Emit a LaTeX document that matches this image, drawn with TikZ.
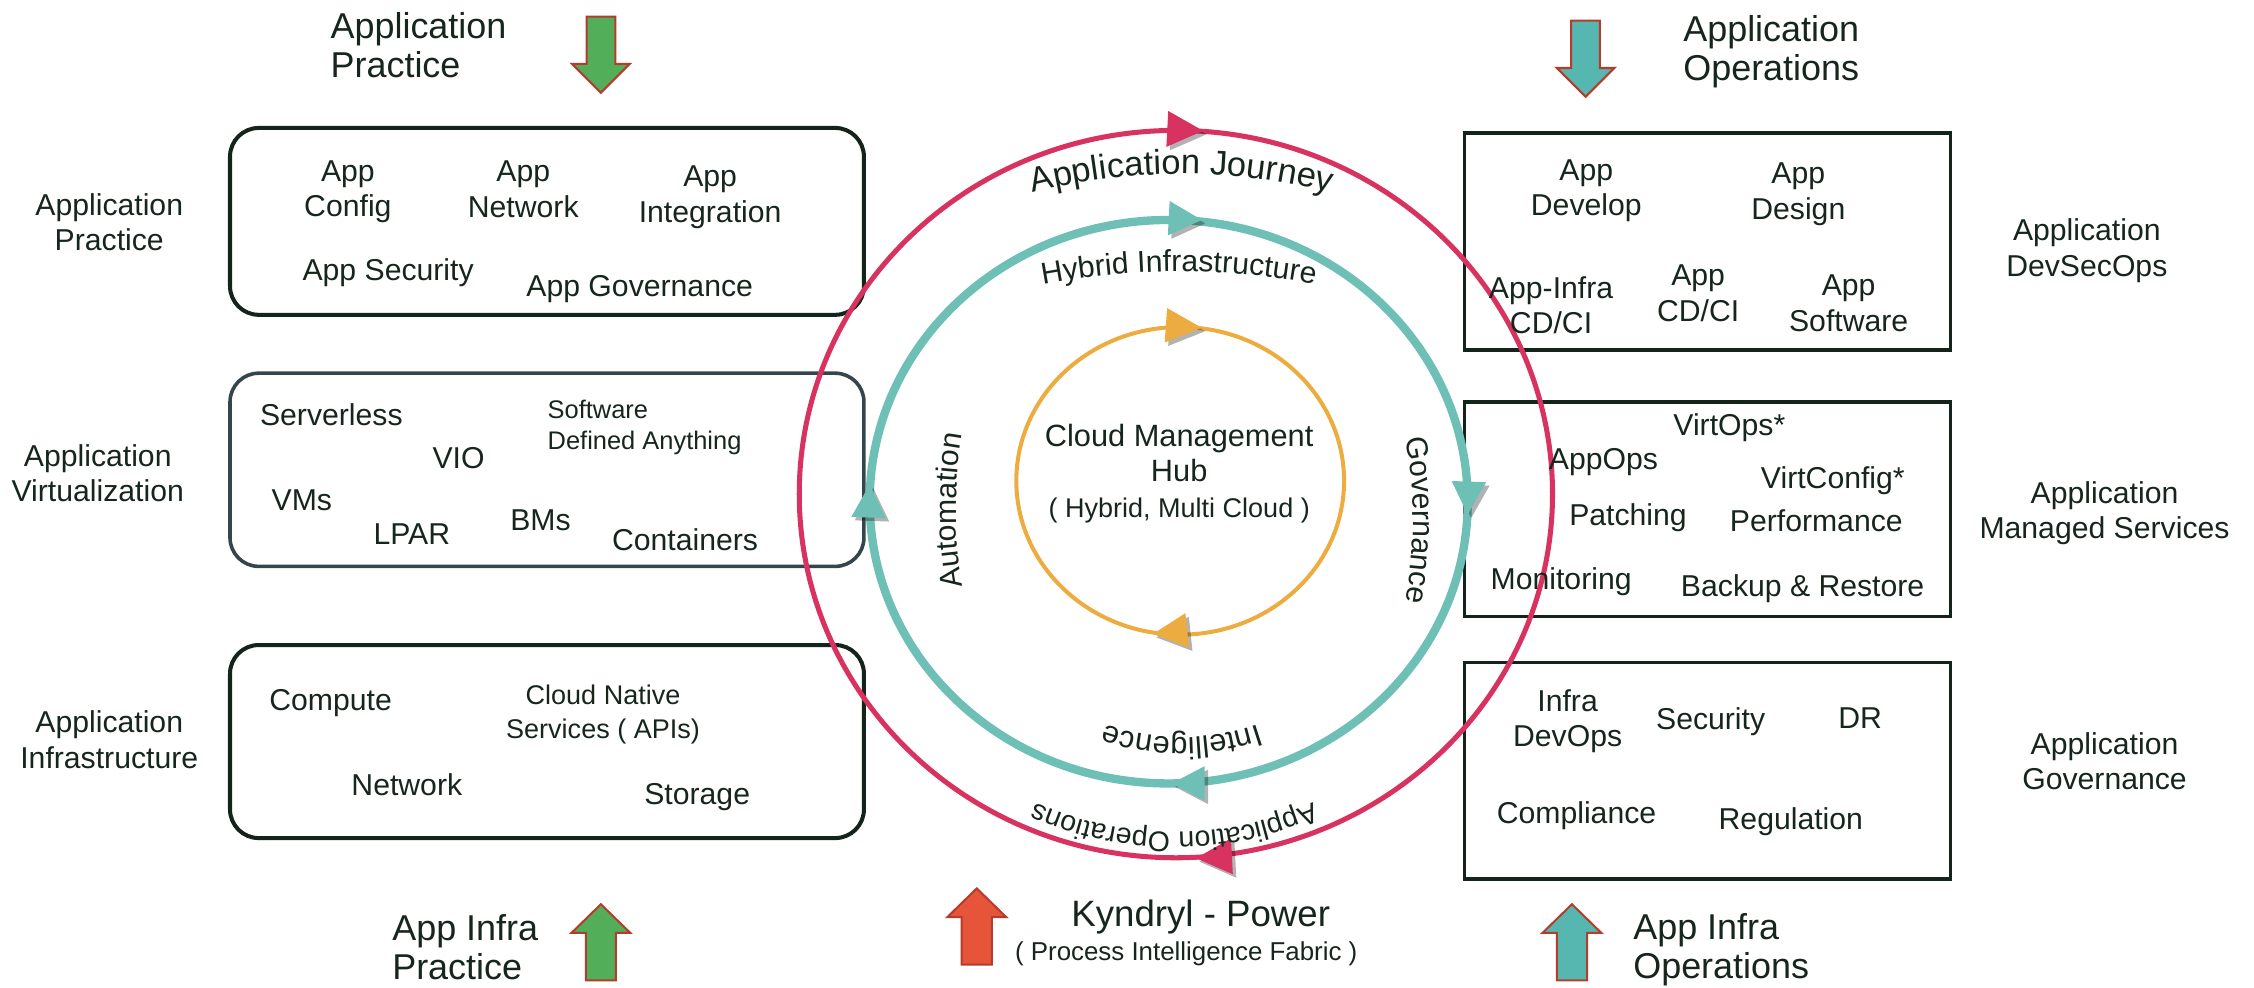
\documentclass[tikz,border=0pt]{standalone}
\usepackage{fontspec}
\setmainfont{Liberation Sans}
\usetikzlibrary{decorations.text,shadows}
\definecolor{redc}{RGB}{216,51,96}
\definecolor{tealc}{RGB}{110,192,183}
\definecolor{orangec}{RGB}{237,172,64}
\definecolor{greenfill}{RGB}{82,174,88}
\definecolor{tealfill}{RGB}{86,182,176}
\definecolor{orfill}{RGB}{230,84,58}
\definecolor{arrowbd}{RGB}{180,60,45}
\definecolor{txt}{RGB}{22,38,28}
\definecolor{boxdark}{RGB}{20,36,26}
\definecolor{boxgray}{RGB}{52,70,76}
\newcommand\fsMain{\fontsize{10.5}{12.4}\selectfont}
\newcommand\fsBig{\fontsize{12.5}{13.5}\selectfont}
\newcommand\fsSoft{\fontsize{8.85}{10.5}\selectfont}
\newcommand\fsCN{\fontsize{9.4}{11.8}\selectfont}
\newcommand\fsHub{\fontsize{10.7}{12.5}\selectfont}
\newcommand\fsHubS{\fontsize{9.4}{12.5}\selectfont}
\tikzset{
  lbl/.style={font=\fsMain, text=txt, align=center, inner sep=0pt, text depth=0pt},
  biglbl/.style={lbl, font=\fsBig, align=left, anchor=west},
  lbox/.style={draw=boxdark, line width=1.4pt, rounded corners=10pt},
  rbox/.style={draw=boxdark, line width=1.15pt},
  ahead/.style={drop shadow={shadow xshift=1.2pt, shadow yshift=-1.2pt, opacity=0.3, fill=black}},
  blk/.style={draw=arrowbd, line width=0.7pt, line join=miter},
  pics/blkup/.style={code={\path[pic actions] (0,0) -- (20.5,-20) -- (10.5,-20) -- (10.5,-53) -- (-10.5,-53) -- (-10.5,-20) -- (-20.5,-20) -- cycle;}},
  pics/blkdown/.style={code={\path[pic actions] (0,0) -- (20,20) -- (10,20) -- (10,53) -- (-10,53) -- (-10,20) -- (-20,20) -- cycle;}},
}
\begin{document}
\begin{tikzpicture}[x=0.5pt,y=0.5pt]
\useasboundingbox (0,0) rectangle (1568,-687);

% boxes
\draw[lbox] (160,-89) rectangle (601,-219);
\draw[lbox, draw=boxgray, line width=1.25pt] (160,-259.6) rectangle (601,-394);
\draw[lbox] (160,-448.7) rectangle (601,-583);
\draw[rbox] (1019,-92.6) rectangle (1357,-243.5);
\draw[rbox] (1019,-279.6) rectangle (1357,-429);
\draw[rbox] (1019,-461) rectangle (1357,-611.5);

% rings
\draw[redc, line width=1.75pt] (818,-343.7) ellipse [x radius=262, y radius=253];
\draw[tealc, line width=2.9pt] (813,-349) ellipse [x radius=208, y radius=196];
\draw[orangec, line width=1.4pt] (821,-334.5) ellipse [x radius=114, y radius=107];

% ring arrow heads
\fill[redc, ahead, shift={(837,-91)}, rotate=-3] (0,0) -- (-25,12.5) -- (-25,-12.5) -- cycle;
\fill[redc, ahead, shift={(832,-597)}, rotate=183] (0,0) -- (-25,12.5) -- (-25,-12.5) -- cycle;
\fill[tealc, ahead, shift={(836,-153)}, rotate=-3] (0,0) -- (-23,12) -- (-23,-12) -- cycle;
\fill[tealc, ahead, shift={(1021,-358)}, rotate=-92] (0,0) -- (-23,12) -- (-23,-12) -- cycle;
\fill[tealc, ahead, shift={(815,-545)}, rotate=180] (0,0) -- (-23,12) -- (-23,-12) -- cycle;
\fill[tealc, ahead, shift={(605,-337)}, rotate=88] (0,0) -- (-23,12) -- (-23,-12) -- cycle;
\fill[orangec, ahead, shift={(836,-228)}, rotate=-4] (0,0) -- (-25,12) -- (-25,-12) -- cycle;
\fill[orangec, ahead, shift={(802,-441)}, rotate=186] (0,0) -- (-24,12) -- (-24,-12) -- cycle;

% curved texts
\path[decorate, decoration={text along path, text align=center,
  text={|\fontsize{12}{14}\selectfont\color{txt}|Application Journey}}]
  (822,-538) ++(112:417) arc[start angle=112, end angle=68, radius=417];
\path[decorate, decoration={text along path, text align=center,
  text={|\fontsize{10.5}{12}\selectfont\color{txt}|Hybrid Infrastructure}}]
  (820,-701) ++(106:512) arc[start angle=106, end angle=74, radius=512];
\path[decorate, decoration={text along path, text align=center,
  text={|\fontsize{10.5}{12}\selectfont\color{txt}|Automation}}]
  (965,-355) ++(205:300) arc[start angle=205, end angle=155, radius=300];
\path[decorate, decoration={text along path, text align=center,
  text={|\fontsize{10.5}{12}\selectfont\color{txt}|Governance}}]
  (683,-362) ++(25:300) arc[start angle=25, end angle=-25, radius=300];
\path[decorate, decoration={text along path, text align=center,
  text={|\fontsize{10.7}{12}\selectfont\color{txt}|Intelligence}}]
  (822,-349) ++(-40:164) arc[start angle=-40, end angle=-140, radius=164];
\path[decorate, decoration={text along path, text align=center,
  text={|\fontsize{9.9}{12}\selectfont\color{txt}|Application Operations}}]
  (817,-344) ++(-30:235) arc[start angle=-30, end angle=-150, radius=235];

% hub
\node[lbl, font=\fsHub] (hub) at (820.3,-327.5) {Cloud Management\\Hub\\{\fsHubS ( Hybrid, Multi Cloud )}};

% block arrows
\pic[blk, fill=greenfill] at (418,-64.5) {blkdown};
\pic[blk, fill=tealfill] at (1103,-67.3) {blkdown};
\pic[blk, fill=greenfill] at (418,-629) {blkup};
\pic[blk, fill=orfill] at (679.5,-618) {blkup};
\pic[blk, fill=tealfill] at (1093.5,-629) {blkup};

% top / bottom labels
\node[biglbl] (tl) at (229.6,-31.3) {Application\\Practice};
\node[biglbl] (tr) at (1170.6,-33.3) {Application\\Operations};
\node[biglbl] (bl) at (272.5,-659) {App Infra\\Practice};
\node[biglbl] (br) at (1135.8,-658.2) {App Infra\\Operations};
\node[lbl, font=\fontsize{12.75}{14}\selectfont] (kyn) at (835.3,-635.3) {Kyndryl - Power};
\node[lbl, font=\fontsize{9}{11}\selectfont] (kynsub) at (825.2,-661.4) {( Process Intelligence Fabric )};

% left labels
\node[lbl] (lp) at (76,-154.5) {Application\\Practice};
\node[lbl] (lv) at (68,-329) {Application\\Virtualization};
\node[lbl] (li) at (76,-514.6) {Application\\Infrastructure};

% box 1
\node[lbl] (appconfig) at (242,-131.3) {App\\Config};
\node[lbl] (appnetwork) at (364,-131.5) {App\\Network};
\node[lbl] (appintegration) at (494,-134.9) {App\\Integration};
\node[lbl] (appsecurity) at (270,-187.8) {App Security};
\node[lbl] (appgovernance) at (445,-198.7) {App Governance};

% box 2
\node[lbl] (serverless) at (230.5,-288.7) {Serverless};
\node[lbl, font=\fsSoft, align=left, anchor=west] (sda) at (380.6,-295.5) {Software\\Defined Anything};
\node[lbl] (vio) at (319,-318.8) {VIO};
\node[lbl] (vms) at (210,-347.8) {VMs};
\node[lbl] (lpar) at (286.5,-371.5) {LPAR};
\node[lbl] (bms) at (376,-362) {BMs};
\node[lbl] (containers) at (476.6,-375) {Containers};

% box 3
\node[lbl] (compute) at (230,-487) {Compute};
\node[lbl, font=\fsCN] (cloudnative) at (419.5,-494.8) {Cloud Native\\Services ( APIs)};
\node[lbl] (network) at (283,-546) {Network};
\node[lbl] (storage) at (485,-552) {Storage};

% right box 1
\node[lbl] (appdevelop) at (1103.5,-130.5) {App\\Develop};
\node[lbl] (appdesign) at (1251,-133) {App\\Design};
\node[lbl] (appinfracdci) at (1079,-212.2) {App-Infra\\CD/CI};
\node[lbl] (appcdci) at (1181.3,-203.8) {App\\CD/CI};
\node[lbl] (appsoftware) at (1286,-210.9) {App\\Software};

% right box 2
\node[lbl] (virtops) at (1203,-295) {VirtOps*};
\node[lbl] (appops) at (1115.4,-319.3) {AppOps};
\node[lbl] (virtconfig) at (1275,-332) {VirtConfig*};
\node[lbl] (patching) at (1132.5,-357.6) {Patching};
\node[lbl] (performance) at (1263.5,-362.2) {Performance};
\node[lbl] (monitoring) at (1086,-402.8) {Monitoring};
\node[lbl] (backup) at (1254,-407.4) {Backup \& Restore};

% right box 3
\node[lbl] (infradevops) at (1090.5,-499.6) {Infra\\DevOps};
\node[lbl] (security) at (1190,-499.7) {Security};
\node[lbl] (dr) at (1294,-499.7) {DR};
\node[lbl] (compliance) at (1096.7,-565) {Compliance};
\node[lbl] (regulation) at (1245.8,-569.3) {Regulation};

% right labels
\node[lbl] (rdev) at (1451.7,-172) {Application\\DevSecOps};
\node[lbl] (rman) at (1464,-354.8) {Application\\Managed Services};
\node[lbl] (rgov) at (1464,-529.4) {Application\\Governance};
\end{tikzpicture}
\end{document}
